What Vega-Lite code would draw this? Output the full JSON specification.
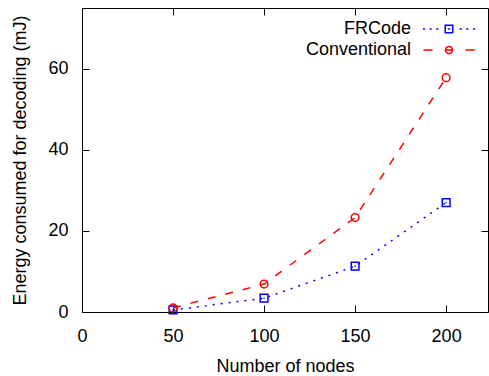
{
  "$schema": "https://vega.github.io/schema/vega-lite/v6.json",
  "width": 406,
  "height": 304,
  "autosize": "none",
  "padding": {"left": 82, "top": 8, "right": 1, "bottom": 64},
  "background": "white",
  "config": {
    "font": "Liberation Sans",
    "view": {"stroke": "black", "strokeWidth": 1},
    "axis": {
      "grid": false,
      "domain": false,
      "tickColor": "black",
      "tickSize": -7,
      "tickWidth": 1,
      "labelFlush": false,
      "labelFont": "Liberation Sans",
      "labelFontSize": 18,
      "labelColor": "black",
      "titleFont": "Liberation Sans",
      "titleFontSize": 18,
      "titleFontWeight": "normal",
      "titleColor": "black"
    }
  },
  "data": {
    "values": [
      {"nodes": 50, "energy": 0.5, "series": "FRCode"},
      {"nodes": 100, "energy": 3.4, "series": "FRCode"},
      {"nodes": 150, "energy": 11.3, "series": "FRCode"},
      {"nodes": 200, "energy": 27.0, "series": "FRCode"},
      {"nodes": 50, "energy": 1.0, "series": "Conventional"},
      {"nodes": 100, "energy": 6.9, "series": "Conventional"},
      {"nodes": 150, "energy": 23.3, "series": "Conventional"},
      {"nodes": 200, "energy": 57.8, "series": "Conventional"}
    ]
  },
  "resolve": {"axis": {"x": "independent", "y": "independent"}},
  "layer": [
    {
      "transform": [{"filter": "datum.series === 'FRCode'"}],
      "mark": {"type": "line", "strokeWidth": 1.5, "strokeDash": [2, 6]},
      "encoding": {
        "x": {"field": "nodes", "type": "quantitative",
              "scale": {"domain": [0, 223], "nice": false, "zero": false},
              "axis": {"orient": "bottom", "values": [0, 50, 100, 150, 200], "title": "Number of nodes", "labelPadding": 22, "titlePadding": 12}},
        "y": {"field": "energy", "type": "quantitative",
              "scale": {"domain": [0, 75], "nice": false},
              "axis": {"orient": "left", "values": [0, 20, 40, 60], "title": "Energy consumed for decoding (mJ)", "labelPadding": 21, "titlePadding": 18}},
        "color": {"field": "series", "type": "nominal",
                  "scale": {"domain": ["FRCode", "Conventional"], "range": ["#0000ff", "#ff0000"]},
                  "legend": {
                    "title": null,
                    "orient": "none",
                    "legendX": 358,
                    "legendY": 12,
                    "labelAlign": "right",
                    "labelOffset": -47,
                    "labelFontSize": 18,
                    "labelFont": "Liberation Sans",
                    "labelColor": "black",
                    "symbolSize": 100,
                    "symbolStrokeWidth": 1.5,
                    "rowPadding": 3,
                    "encode": {
                      "symbols": {
                        "update": {
                          "shape": {"signal": "datum.value === 'FRCode' ? 'M-5.1,0H-4.9 M-3.767,0H-3.567 M-2.433,0H-2.233 M2.233,0H2.433 M3.567,0H3.767 M4.9,0H5.1 M-0.75,-0.75H0.75V0.75H-0.75Z M-0.1,0H0.1' : 'M-5,0H-3.4 M3.4,0H5 M-0.7,0A0.7,0.7,0,1,0,0.7,0A0.7,0.7,0,1,0,-0.7,0 M-0.7,0H0.7'"},
                          "strokeDash": {"value": [1, 0]},
                          "fill": {"value": "transparent"},
                          "strokeCap": {"value": "round"},
                          "opacity": {"value": 1}
                        }
                      }
                    }
                  }}
      }
    },
    {
      "transform": [{"filter": "datum.series === 'Conventional'"}],
      "mark": {"type": "line", "strokeWidth": 1.5, "strokeDash": [8, 10]},
      "encoding": {
        "x": {"field": "nodes", "type": "quantitative", "axis": null},
        "y": {"field": "energy", "type": "quantitative", "axis": null},
        "color": {"field": "series", "type": "nominal"}
      }
    },
    {
      "transform": [{"filter": "datum.series === 'FRCode'"}],
      "mark": {"type": "point", "filled": false, "strokeWidth": 1.5, "size": 60, "opacity": 1, "shape": "M-1,-1H1V1H-1Z M-0.15,0H0.15"},
      "encoding": {
        "x": {"field": "nodes", "type": "quantitative", "axis": null},
        "y": {"field": "energy", "type": "quantitative", "axis": null},
        "color": {"field": "series", "type": "nominal"}
      }
    },
    {
      "transform": [{"filter": "datum.series === 'Conventional'"}],
      "mark": {"type": "point", "filled": false, "strokeWidth": 1.5, "size": 60, "opacity": 1, "shape": "circle"},
      "encoding": {
        "x": {"field": "nodes", "type": "quantitative", "axis": null},
        "y": {"field": "energy", "type": "quantitative", "axis": null},
        "color": {"field": "series", "type": "nominal"}
      }
    },
    {
      "mark": {"type": "point", "opacity": 0},
      "encoding": {
        "x": {"field": "nodes", "type": "quantitative",
              "axis": {"orient": "top", "values": [0, 50, 100, 150, 200], "labels": false, "title": null}},
        "y": {"field": "energy", "type": "quantitative",
              "axis": {"orient": "right", "values": [0, 20, 40, 60], "labels": false, "title": null}}
      }
    }
  ]
}
